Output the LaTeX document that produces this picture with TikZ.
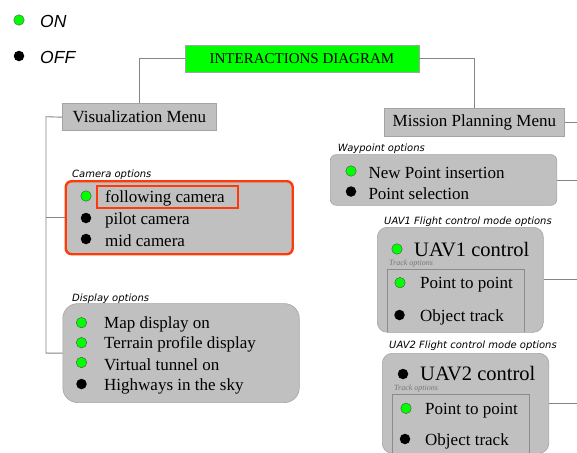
\documentclass[tikz,border=0pt]{standalone}
\usepackage{fontspec}
\setmainfont{Liberation Serif}
\newfontfamily\labelfont{DejaVu Sans}
\newfontfamily\legendfont{Liberation Sans}
\definecolor{boxgray}{HTML}{C0C0C0}
\definecolor{boxborder}{HTML}{A4A4A4}
\definecolor{linegray}{HTML}{858585}
\definecolor{ongreen}{HTML}{00FF00}
\definecolor{hiorange}{HTML}{FF3A0A}
\definecolor{trackgray}{HTML}{777777}
\tikzset{
  conn/.style={draw=linegray, line width=0.9pt},
  menubox/.style={draw=boxborder, fill=boxgray, line width=0.8pt, inner sep=0pt, anchor=north west, font=\fontsize{17}{20}\selectfont},
  optbox/.style={draw=boxborder, fill=boxgray, line width=0.6pt, inner sep=0pt, anchor=north west},
  ondot/.style={circle, draw=black!70, line width=0.4pt, fill=ongreen, minimum size=10.5pt, inner sep=0pt},
  offdot/.style={circle, fill=black, minimum size=10.5pt, inner sep=0pt},
  item/.style={anchor=west, inner sep=0pt, yshift=-2pt, font=\fontsize{17}{20}\selectfont},
  bigitem/.style={anchor=base west, inner sep=0pt, text depth=0pt, font=\fontsize{20.5}{24}\selectfont},
  grouplabel/.style={anchor=west, inner sep=0pt, yshift=-1pt, font=\labelfont\itshape\fontsize{10}{12}\selectfont},
  tracklabel/.style={anchor=west, inner sep=0pt, yshift=-0.5pt, text=trackgray, font=\itshape\fontsize{8}{10}\selectfont},
  legendtext/.style={anchor=west, inner sep=0pt, font=\legendfont\itshape\fontsize{17.5}{20}\selectfont},
  trackline/.style={draw=boxborder!85!black, line width=0.6pt},
}
\begin{document}
\begin{tikzpicture}[x=1pt,y=-1pt]
\clip (0,0) rectangle (577,452);
\fill[white] (0,0) rectangle (577,452);

% legend
\node[ondot] (onDot) at (19,20) {};
\node[legendtext] (onTxt) at (40,21) {ON};
\node[offdot] (offDot) at (19,56) {};
\node[legendtext] (offTxt) at (40,57) {OFF};

% title
\node[menubox, fill=ongreen, minimum width=234, minimum height=26.5, font=\fontsize{15}{18}\selectfont] (title) at (184.5,45) {INTERACTIONS DIAGRAM};

% menus
\node[menubox, minimum width=154, minimum height=27] (vis) at (62,103.3) {Visualization Menu};
\node[menubox, minimum width=180, minimum height=28] (mission) at (384,108.3) {Mission Planning Menu};

% camera options
\node[grouplabel] (camLbl) at (72,174) {Camera options};
\node[optbox, draw=hiorange, line width=2.4pt, rounded corners=6pt, minimum width=227, minimum height=73] (camera) at (64.5,180) {};
\node[draw=hiorange, line width=2.2pt, minimum width=141, minimum height=22, anchor=north west, inner sep=0pt] (hl) at (96,185) {};
\node[ondot] (c1d) at (86,196) {};
\node[item] (c1) at (105,196) {following camera};
\node[offdot] (c2d) at (86,218) {};
\node[item] (c2) at (105,218) {pilot camera};
\node[offdot] (c3d) at (86,239) {};
\node[item] (c3) at (105,239) {mid camera};

% display options
\node[grouplabel] (dispLbl) at (72,297.7) {Display options};
\node[optbox, rounded corners=15pt, minimum width=236.5, minimum height=99] (display) at (62.5,303.3) {};
\node[ondot] (d1d) at (81.5,322.7) {};
\node[item] (d1) at (104,322.7) {Map display on};
\node[ondot] (d2d) at (81.5,342.7) {};
\node[item] (d2) at (104,342.7) {Terrain profile display};
\node[ondot] (d3d) at (81.5,362.5) {};
\node[item] (d3) at (104,362.5) {Virtual tunnel on};
\node[offdot] (d4d) at (81.5,384) {};
\node[item] (d4) at (104,384) {Highways in the sky};

% waypoint options
\node[grouplabel] (wpLbl) at (337.7,147.3) {Waypoint options};
\node[optbox, rounded corners=6pt, minimum width=226.5, minimum height=50.7] (waypoint) at (330,154.3) {};
\node[ondot] (w1d) at (351,171) {};
\node[item] (w1) at (368.3,171) {New Point insertion};
\node[offdot] (w2d) at (351,191.5) {};
\node[item] (w2) at (368.3,191.5) {Point selection};

% UAV1
\node[grouplabel] (u1Lbl) at (384,221) {UAV1 Flight control mode options};
\node[optbox, rounded corners=10pt, minimum width=166, minimum height=105] (uav1) at (377,227) {};
\node[ondot] (u1d) at (397,249) {};
\node[bigitem] (u1) at (414,256.3) {UAV1 control};
\node[tracklabel] (u1tr) at (389,263) {Track options};
\draw[trackline] (387,331.5) |- (524,269) -- (524,331.5);
\node[ondot] (u1ad) at (400,282.7) {};
\node[item] (u1a) at (420,282.7) {Point to point};
\node[offdot] (u1bd) at (399.5,315) {};
\node[item] (u1b) at (420,315) {Object track};

% UAV2
\node[grouplabel] (u2Lbl) at (389,345) {UAV2 Flight control mode options};
\node[optbox, rounded corners=10pt, minimum width=166.5, minimum height=100] (uav2) at (382,353) {};
\node[offdot] (u2d) at (403,374) {};
\node[bigitem] (u2) at (420,380.6) {UAV2 control};
\node[tracklabel] (u2tr) at (394,387.6) {Track options};
\draw[trackline] (392,460) |- (529,394) -- (529,460);
\node[ondot] (u2ad) at (406,408.3) {};
\node[item] (u2a) at (425,408.3) {Point to point};
\node[offdot] (u2bd) at (405,439) {};
\node[item] (u2b) at (425,439) {Object track};

% connectors
\draw[conn] (title.west) -| (vis.north);
\draw[conn] (title.east) -| (mission.north);
\coordinate (trunk) at (46,116.7);
\draw[conn] (vis.west) -- (trunk) |- (display.west);
\draw[conn] (trunk |- camera.west) -- (camera.west);
\coordinate (edge) at (577,0);
\draw[conn] (mission.east) -- (mission.east -| edge);
\draw[conn] (waypoint.east) -- (waypoint.east -| edge);
\draw[conn] (uav1.east) -- (uav1.east -| edge);
\draw[conn] (uav2.east) -- (uav2.east -| edge);
\end{tikzpicture}
\end{document}
